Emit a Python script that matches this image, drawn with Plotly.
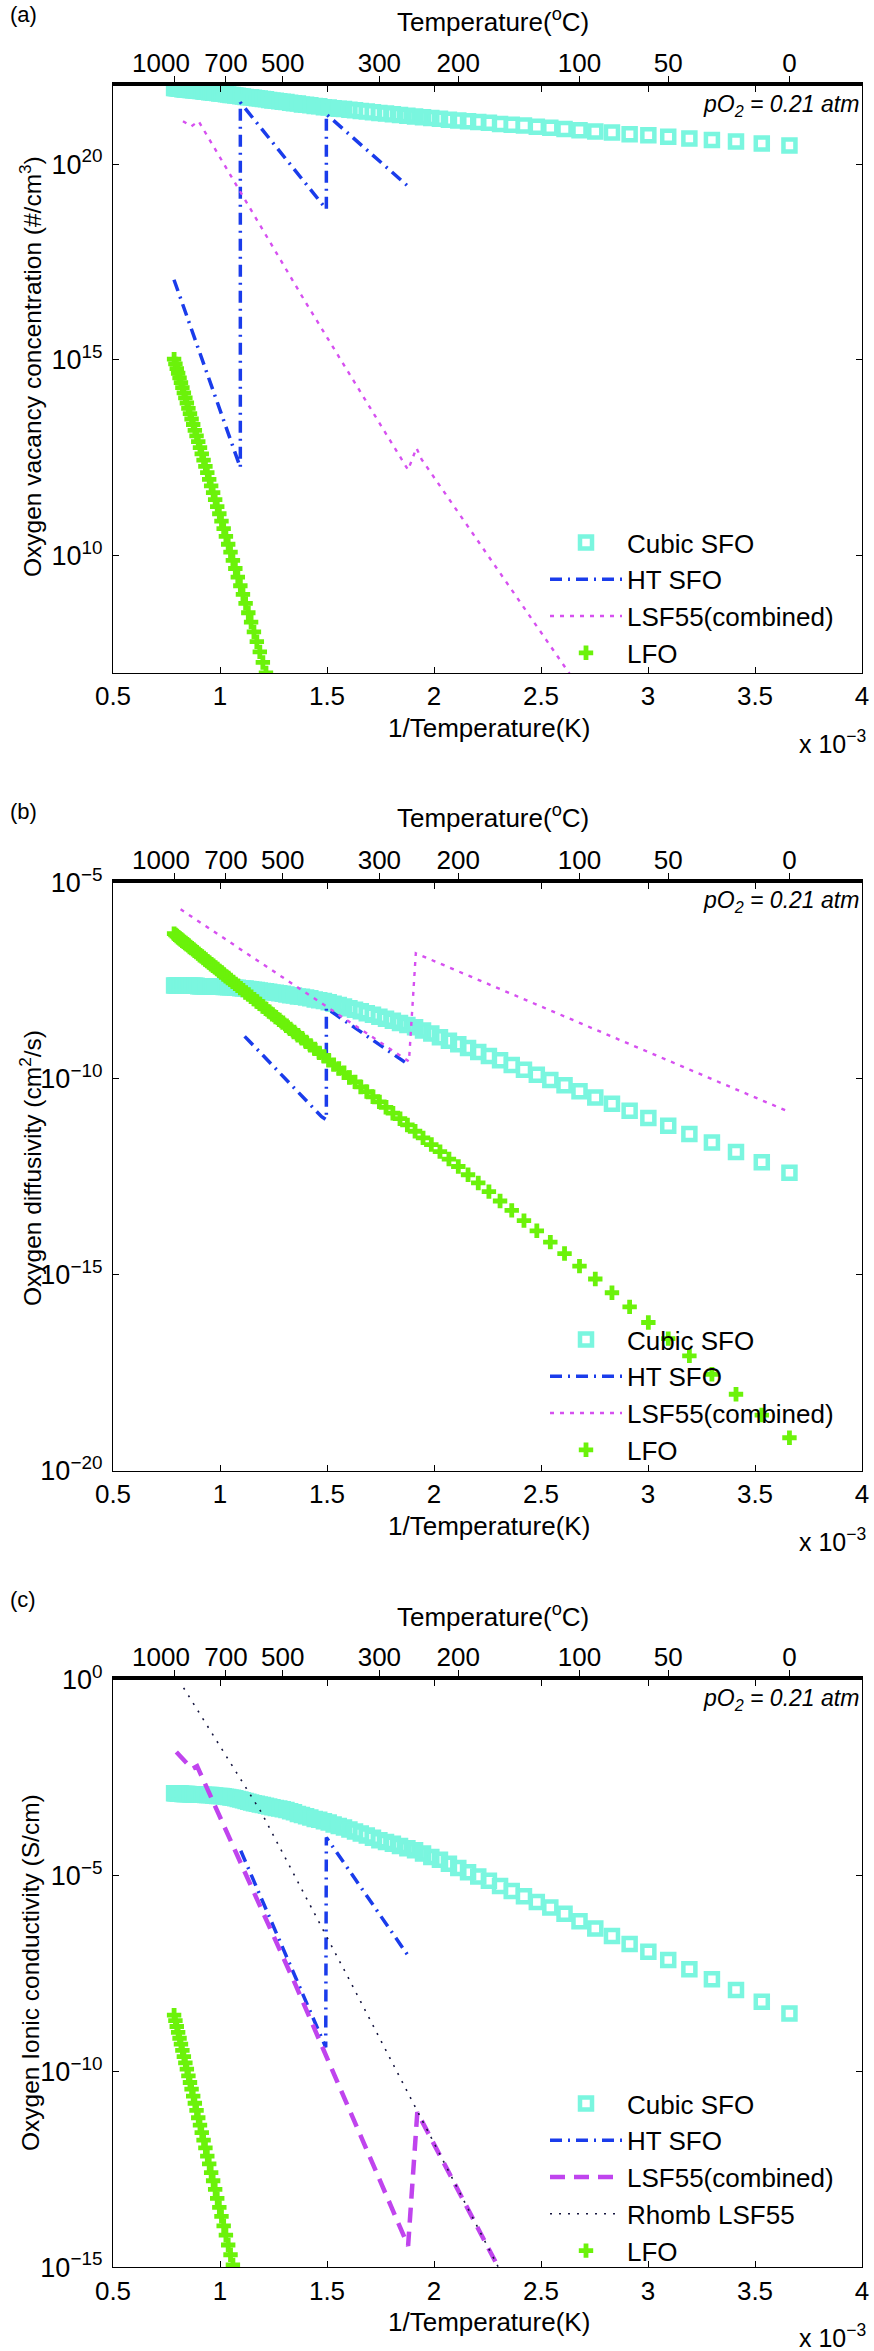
import plotly.graph_objects as go

W, H = 874, 2351
ML, MR = 113, 12
PW = W - ML - MR

def pxx(px):
    return (px - ML) / PW

def pxy(py):
    return 1 - py / H

FONT = "Liberation Sans, Arial, sans-serif"
CYAN = "#7AF6DF"
BLUE = "#1A3CEB"
MAG = "#D650F0"
PURP = "#C044EE"
DARK = "#15153F"
GREEN = "#6BF20A"

# ---- temperature grid of the marker series (deg C) ----
T_C = [1000, 990, 980, 970, 960, 950, 940, 930, 920, 910,
       900, 890, 880, 870, 860, 850, 840, 830, 820, 810,
       800, 790, 780, 770, 760, 750, 740, 730, 720, 710,
       700, 690, 680, 670, 660, 650, 640, 630, 620, 610,
       600, 590, 580, 570, 560, 550, 540, 530, 520, 510,
       500, 490, 480, 470, 460, 450, 440, 430, 420, 410,
       400, 390, 380, 370, 360, 350, 340, 330, 320, 310,
       300, 290, 280, 270, 260, 250, 240, 230, 220, 210,
       200, 190, 180, 170, 160, 150, 140, 130, 120, 110,
       100, 90, 80, 70, 60, 50, 40, 30, 20, 10,
       0]
X_GRID = [1000.0 / (t + 273.15) for t in T_C]  # 1/T in units of 1e-3 K^-1

# ---- panel (a): oxygen vacancy concentration, log10(#/cm3) ----
CUBIC_A = [21.95, 21.95, 21.94, 21.94, 21.93, 21.93, 21.92, 21.92, 21.91, 21.91,
           21.91, 21.90, 21.90, 21.89, 21.89, 21.88, 21.88, 21.87, 21.87, 21.86,
           21.85, 21.85, 21.84, 21.84, 21.83, 21.83, 21.82, 21.81, 21.81, 21.80,
           21.79, 21.78, 21.77, 21.77, 21.76, 21.75, 21.74, 21.73, 21.72, 21.71,
           21.71, 21.70, 21.69, 21.68, 21.67, 21.66, 21.64, 21.63, 21.62, 21.61,
           21.60, 21.59, 21.57, 21.56, 21.55, 21.53, 21.52, 21.51, 21.49, 21.48,
           21.46, 21.45, 21.43, 21.42, 21.41, 21.39, 21.38, 21.36, 21.35, 21.33,
           21.31, 21.30, 21.28, 21.26, 21.24, 21.22, 21.20, 21.18, 21.16, 21.14,
           21.12, 21.10, 21.08, 21.06, 21.03, 21.01, 20.99, 20.96, 20.93, 20.90,
           20.87, 20.84, 20.81, 20.77, 20.74, 20.70, 20.66, 20.62, 20.58, 20.53,
           20.48]
LFO_A = [15.02, 14.90, 14.78, 14.66, 14.54, 14.42, 14.29, 14.16, 14.03, 13.90,
         13.76, 13.63, 13.49, 13.35, 13.20, 13.06, 12.91, 12.76, 12.60, 12.44,
         12.28, 12.12, 11.95, 11.78, 11.61, 11.43, 11.25, 11.07, 10.88, 10.69,
         10.49, 10.29, 10.09, 9.88, 9.67, 9.45, 9.23, 9.01, 8.78, 8.54,
         8.30, 8.05, 7.80, 7.54, 7.27, 7.00, 6.72]
HT_A_X = [0.785, 1.095, 1.095, 1.497, 1.497, 1.876]
HT_A = [17.05, 12.25, 21.58, 18.85, 21.28, 19.45]
LSF_A_X = [0.827, 0.866, 0.900, 1.397, 1.879, 1.918, 1.942, 2.650]
LSF_A = [21.10, 20.97, 21.10, 16.50, 12.19, 12.75, 12.46, 6.85]

# ---- panel (b): oxygen diffusivity, log10(cm2/s) ----
CUBIC_B = [-7.62, -7.62, -7.62, -7.62, -7.62, -7.62, -7.63, -7.63, -7.63, -7.63,
           -7.63, -7.63, -7.63, -7.63, -7.63, -7.63, -7.64, -7.64, -7.64, -7.64,
           -7.64, -7.64, -7.64, -7.64, -7.65, -7.65, -7.65, -7.65, -7.65, -7.66,
           -7.66, -7.67, -7.67, -7.67, -7.68, -7.68, -7.69, -7.70, -7.70, -7.71,
           -7.72, -7.73, -7.74, -7.75, -7.76, -7.77, -7.78, -7.80, -7.81, -7.82,
           -7.83, -7.85, -7.87, -7.88, -7.90, -7.91, -7.93, -7.95, -7.98, -8.00,
           -8.02, -8.05, -8.09, -8.12, -8.16, -8.20, -8.24, -8.28, -8.33, -8.37,
           -8.42, -8.47, -8.52, -8.58, -8.63, -8.69, -8.77, -8.85, -8.94, -9.03,
           -9.12, -9.22, -9.32, -9.42, -9.53, -9.65, -9.77, -9.90, -10.03, -10.17,
           -10.32, -10.48, -10.64, -10.82, -11.00, -11.20, -11.41, -11.63, -11.87, -12.13,
           -12.40]
LFO_B = [-6.30, -6.33, -6.36, -6.39, -6.42, -6.45, -6.48, -6.51, -6.54, -6.57,
         -6.60, -6.64, -6.67, -6.70, -6.74, -6.77, -6.81, -6.85, -6.88, -6.92,
         -6.96, -7.00, -7.04, -7.08, -7.12, -7.16, -7.20, -7.25, -7.29, -7.34,
         -7.39, -7.43, -7.48, -7.53, -7.58, -7.63, -7.69, -7.74, -7.80, -7.85,
         -7.91, -7.97, -8.03, -8.09, -8.16, -8.22, -8.29, -8.36, -8.43, -8.50,
         -8.57, -8.65, -8.73, -8.81, -8.89, -8.97, -9.06, -9.15, -9.24, -9.34,
         -9.43, -9.53, -9.64, -9.74, -9.85, -9.97, -10.08, -10.21, -10.33, -10.46,
         -10.59, -10.73, -10.88, -11.02, -11.18, -11.34, -11.51, -11.68, -11.86, -12.05,
         -12.24, -12.45, -12.66, -12.88, -13.12, -13.36, -13.62, -13.88, -14.17, -14.46,
         -14.78, -15.11, -15.46, -15.82, -16.22, -16.63, -17.07, -17.54, -18.05, -18.58,
         -19.16]
HT_B_X = [1.115, 1.135, 1.475, 1.497, 1.497, 1.883]
HT_B = [-8.92, -9.03, -10.97, -11.05, -8.20, -9.65]
LSF_B_X = [0.816, 1.883, 1.915, 3.661]
LSF_B = [-5.68, -9.56, -6.80, -10.85]

# ---- panel (c): oxygen ionic conductivity, log10(S/cm) ----
CUBIC_C = [-2.89, -2.89, -2.89, -2.90, -2.90, -2.90, -2.91, -2.91, -2.91, -2.91,
           -2.91, -2.92, -2.92, -2.92, -2.92, -2.92, -2.93, -2.93, -2.93, -2.93,
           -2.94, -2.94, -2.94, -2.94, -2.95, -2.95, -2.96, -2.96, -2.96, -2.97,
           -2.98, -2.99, -3.00, -3.01, -3.02, -3.04, -3.05, -3.07, -3.09, -3.11,
           -3.13, -3.15, -3.16, -3.18, -3.19, -3.21, -3.23, -3.25, -3.27, -3.28,
           -3.30, -3.32, -3.35, -3.38, -3.42, -3.45, -3.48, -3.51, -3.55, -3.57,
           -3.61, -3.64, -3.69, -3.73, -3.77, -3.82, -3.87, -3.92, -3.97, -4.03,
           -4.09, -4.14, -4.18, -4.24, -4.30, -4.35, -4.43, -4.52, -4.59, -4.69,
           -4.80, -4.91, -5.02, -5.13, -5.26, -5.39, -5.52, -5.67, -5.81, -5.97,
           -6.16, -6.35, -6.54, -6.74, -6.94, -7.15, -7.39, -7.64, -7.92, -8.22,
           -8.52]
LFO_C = [-8.56, -8.70, -8.85, -9.00, -9.15, -9.30, -9.46, -9.62, -9.78, -9.94,
         -10.11, -10.28, -10.45, -10.63, -10.81, -10.99, -11.18, -11.37, -11.56, -11.75,
         -11.95, -12.16, -12.36, -12.58, -12.79, -13.01, -13.24, -13.47, -13.70, -13.94,
         -14.18, -14.43, -14.68, -14.94, -15.20]
HT_C_X = [1.097, 1.494, 1.497, 1.879]
HT_C = [-4.36, -9.38, -4.02, -7.04]
LSF_C_X = [0.796, 0.870, 0.893, 1.350, 1.879, 1.922, 2.320]
LSF_C = [-1.84, -2.27, -2.20, -7.75, -14.45, -11.04, -15.20]
RHOMB_C_X = [0.830, 1.193, 1.598, 2.320]
RHOMB_C = [-0.20, -3.38, -7.59, -15.20]

# ---- axes text ----
X_TICKS = [0.5, 1, 1.5, 2, 2.5, 3, 3.5, 4]
X_TICK_TEXT = ["0.5", "1", "1.5", "2", "2.5", "3", "3.5", "4"]
TOP_T_C = [1000, 700, 500, 300, 200, 100, 50, 0]
TOP_TEXT = ["", "700", "500", "300", "200", "100", "50", "0"]
LABEL_1000_X = 0.724  # the "1000" label sits left of its tick

PANELS = [
    dict(tag="(a)", top=86.0, bot=673.0, yr=[7, 22], yt=[10, 15, 20],
         ytitle="Oxygen vacancy concentration (#/cm<sup>3</sup>)", ytc=367, labc=15, tempc=20),
    dict(tag="(b)", top=882.7, bot=1470.7, yr=[-20, -5], yt=[-20, -15, -10, -5],
         ytitle="Oxygen diffusivity (cm<sup>2</sup>/s)", ytc=1168, labc=811.7, tempc=816.7),
    dict(tag="(c)", top=1680.0, bot=2267.3, yr=[-15, 0], yt=[-15, -10, -5, 0],
         ytitle="Oxygen Ionic conductivity (S/cm)", ytc=1973, labc=1599, tempc=1615),
]

def exp_label(e):
    s = str(e).replace("-", "\u2212")
    return "10<sup>" + s + "</sup>"

fig = go.Figure()

def p10(vals):
    return [10.0 ** v for v in vals]

def add_panel(i, series):
    xa = "x" if i == 0 else "x%d" % (2 * i + 1)
    ya = "y" if i == 0 else "y%d" % (i + 1)
    lg = "legend" if i == 0 else "legend%d" % (i + 1)
    for s in series:
        s.update(xaxis=xa, yaxis=ya, legend=lg)
        fig.add_trace(go.Scatter(**s))
    # invisible trace that carries the top temperature axis
    fig.add_trace(go.Scatter(x=[0.5, 4], y=[10 ** PANELS[i]["yr"][0]] * 2, xaxis="x%d" % (2 * i + 2),
                             yaxis=ya, mode="markers", marker=dict(opacity=0), showlegend=False,
                             hoverinfo="skip"))

def cubic(vals):
    return dict(x=X_GRID, y=p10(vals), mode="markers", name="Cubic SFO",
                marker=dict(symbol="square-open", size=12, color=CYAN, line=dict(width=4.5, color=CYAN)))

def lfo(vals):
    return dict(x=X_GRID[:len(vals)], y=p10(vals), mode="markers", name="LFO",
                marker=dict(symbol="cross", size=12, color=GREEN, line=dict(width=0)))

def ht(xs, vals):
    return dict(x=xs, y=p10(vals), mode="lines", name="HT SFO",
                line=dict(color=BLUE, width=3.5, dash="12px,6px,2px,6px"))

def lsf_dot(xs, vals):
    return dict(x=xs, y=p10(vals), mode="lines", name="LSF55(combined)",
                line=dict(color=MAG, width=2.4, dash="4px,6px"))

add_panel(0, [cubic(CUBIC_A), ht(HT_A_X, HT_A), lsf_dot(LSF_A_X, LSF_A), lfo(LFO_A)])
add_panel(1, [cubic(CUBIC_B), ht(HT_B_X, HT_B), lsf_dot(LSF_B_X, LSF_B), lfo(LFO_B)])
add_panel(2, [cubic(CUBIC_C), ht(HT_C_X, HT_C),
              dict(x=LSF_C_X, y=p10(LSF_C), mode="lines", name="LSF55(combined)",
                   line=dict(color=PURP, width=4.5, dash="15px,9px")),
              dict(x=RHOMB_C_X, y=p10(RHOMB_C), mode="lines", name="Rhomb LSF55",
                   line=dict(color=DARK, width=1.6, dash="2px,7px")),
              lfo(LFO_C)])

layout = dict(width=W, height=H, margin=dict(l=ML, r=MR, t=0, b=0, pad=0, autoexpand=False),
              paper_bgcolor="white", plot_bgcolor="white",
              font=dict(family=FONT, color="black", size=26), showlegend=True)

tickfont = dict(family=FONT, size=26, color="black")
annotations = []
for i, p in enumerate(PANELS):
    dom = [pxy(p["bot"]), pxy(p["top"])]
    xb = "xaxis" if i == 0 else "xaxis%d" % (2 * i + 1)
    xt = "xaxis%d" % (2 * i + 2)
    xtid = "x%d" % (2 * i + 2)
    yk = "yaxis" if i == 0 else "yaxis%d" % (i + 1)
    xbid = "x" if i == 0 else "x%d" % (2 * i + 1)
    yid = "y" if i == 0 else "y%d" % (i + 1)
    layout[xb] = dict(range=[0.5, 4], domain=[0, 1], anchor=yid, tickvals=X_TICKS, ticktext=X_TICK_TEXT,
                      ticks="inside", ticklen=6, tickwidth=1.2, tickcolor="black", tickangle=0,
                      showline=True, linewidth=1.3, linecolor="black", mirror="ticks",
                      showgrid=False, zeroline=False, tickfont=tickfont, automargin=False)
    layout[xt] = dict(range=[0.5, 4], domain=[0, 1], anchor=yid, overlaying=xbid, side="top",
                      tickvals=[1000.0 / (t + 273.15) for t in TOP_T_C], ticktext=TOP_TEXT,
                      ticks="outside", ticklen=6, tickwidth=1.2, tickcolor="black", tickangle=0,
                      showline=True, linewidth=3.5, linecolor="black", ticklabelstandoff=-6,
                      showgrid=False, zeroline=False, tickfont=tickfont, automargin=False)
    layout[yk] = dict(type="log", range=p["yr"], domain=dom, anchor=xbid,
                      tickvals=[10.0 ** e for e in p["yt"]], ticktext=[exp_label(e) for e in p["yt"]],
                      ticks="inside", ticklen=6, tickwidth=1.2, tickcolor="black",
                      showline=True, linewidth=1.3, linecolor="black", mirror="ticks",
                      showgrid=False, zeroline=False, tickfont=dict(family=FONT, size=27, color="black"),
                      ticklabelstandoff=4, automargin=False)
    lk = "legend" if i == 0 else "legend%d" % (i + 1)
    first_item = [539, 1336, 2100][i]
    layout[lk] = dict(x=pxx(545), xanchor="left", y=pxy(first_item - 20), yanchor="top",
                      bgcolor="rgba(0,0,0,0)", borderwidth=0, itemwidth=72,
                      font=dict(family=FONT, size=26, color="black"), tracegroupgap=0)
    annotations += [
        dict(text=p["tag"], x=pxx(8), y=pxy(p["labc"]), xanchor="left", yanchor="middle",
             font=dict(size=22)),
        dict(text="Temperature(<sup>o</sup>C)", x=pxx(493), y=pxy(p["tempc"]), xanchor="center",
             yanchor="middle", font=dict(size=26)),
        dict(text="1000", x=LABEL_1000_X, xref=xtid, y=pxy(p["top"] - 23), xanchor="center",
             yanchor="middle", font=dict(size=26)),
        dict(text="<i>pO<sub>2</sub> = 0.21 atm</i>", x=pxx(861), y=pxy(p["top"] + 19),
             xanchor="right", yanchor="middle", font=dict(size=23)),
        dict(text="1/Temperature(K)", x=pxx(489), y=pxy(p["bot"] + 55), xanchor="center",
             yanchor="middle", font=dict(size=26)),
        dict(text="x 10<sup>\u22123</sup>", x=pxx(868), y=pxy(p["bot"] + 69), xanchor="right",
             yanchor="middle", font=dict(size=25)),
        dict(text=p["ytitle"], x=pxx(30), y=pxy(p["ytc"]), xanchor="center", yanchor="middle",
             textangle=-90, font=dict(size=24.5)),
    ]

for a in annotations:
    a.setdefault("xref", "paper")
    a.update(yref="paper", showarrow=False)
layout["annotations"] = annotations
fig.update_layout(**layout)
fig.write_html("out.html", config={"displayModeBar": False},
               post_script="document.body.style.margin='0px';document.body.style.padding='0px';")
